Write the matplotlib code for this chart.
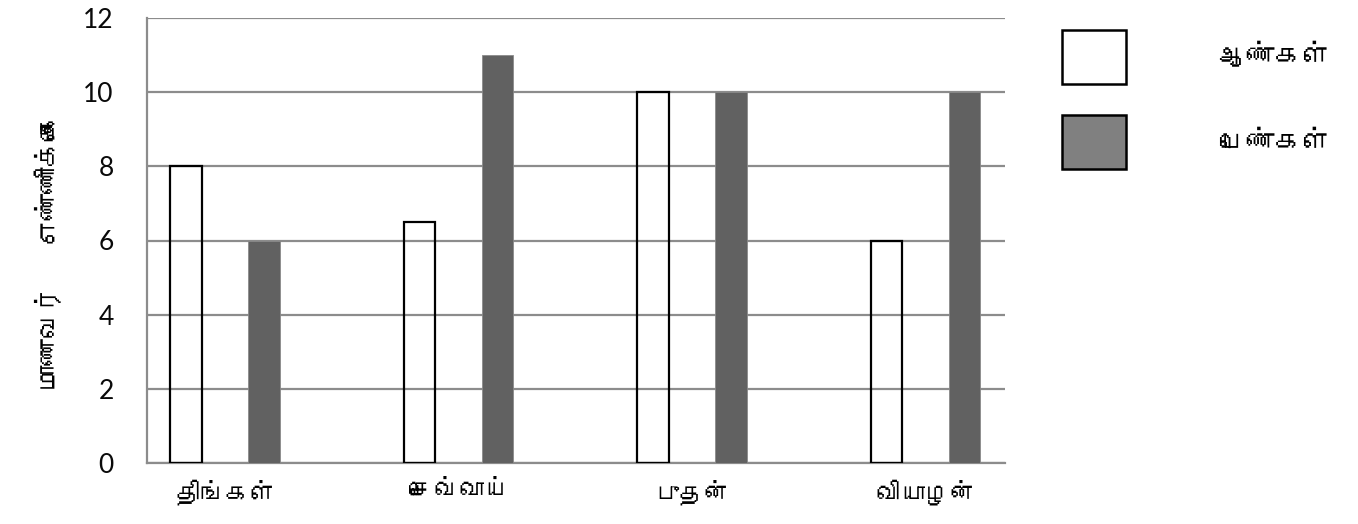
import matplotlib
matplotlib.use("Agg")
import matplotlib.pyplot as plt
from matplotlib import font_manager
from matplotlib.ft2font import FT2Font
from matplotlib.patches import Patch
import numpy as np

# ---- data ----
days = ["திங்கள்", "செவ்வாய்", "புதன்", "வியாழன்"]
boys = [8, 6.5, 10, 6]
girls = [6, 11, 10, 10]
series_labels = ["ஆண்கள்", "பெண்கள்"]
y_label = "மாணவர்   எண்ணிக்கை"
y_ticks = [0, 2, 4, 6, 8, 10, 12]

# ---- find a font with Tamil glyphs ----
tamil_font = None
seen = set()
for f in font_manager.fontManager.ttflist:
    if f.name in seen:
        continue
    seen.add(f.name)
    try:
        ft = FT2Font(f.fname)
        if ft.get_char_index(0x0BA4) and ft.get_char_index(0x0B95):
            tamil_font = f.name
            break
    except Exception:
        pass
tam_family = [tamil_font, "DejaVu Sans"] if tamil_font else ["DejaVu Sans"]

fig = plt.figure(figsize=(13.58, 5.24), dpi=100)
ax = fig.add_axes([147/1358, 61/524, (1005-147)/1358, (463-18)/524])

x = np.arange(len(days))
w = 0.135
off = 0.167
ax.bar(x - off, boys, w, facecolor="none", edgecolor="black", linewidth=1.6, zorder=3)
ax.bar(x + off, girls, w, facecolor="#616161", edgecolor="#8a8a8a", linewidth=0.6, zorder=3)

ax.set_xlim(-0.335, 3.34)
ax.set_ylim(0, 12)
ax.set_yticks(y_ticks)
ax.yaxis.grid(True, color="#8c8c8c", linewidth=1.6, zorder=0)
ax.set_axisbelow(True)
for s in ["top", "right"]:
    ax.spines[s].set_visible(False)
ax.spines["left"].set_color("#8c8c8c")
ax.spines["left"].set_linewidth(1.6)
ax.spines["bottom"].set_color("#8c8c8c")
ax.spines["bottom"].set_linewidth(1.6)
ax.tick_params(axis="both", length=0)
ax.tick_params(axis="y", pad=24)
ax.tick_params(axis="x", pad=12)
ax.set_xticks(x)
ax.set_xticklabels(days, family=tam_family, fontsize=18)
for lab in ax.get_yticklabels():
    lab.set_family(["Lato", "DejaVu Sans"])
    lab.set_fontsize(19)
    lab.set_color("#0a0a0a")

fig.text(48/1358, 1 - 252/524, y_label, rotation=90, ha="center", va="center",
         family=tam_family, fontsize=19)

handles = [Patch(facecolor="white", edgecolor="black", linewidth=1.8),
           Patch(facecolor="#808080", edgecolor="black", linewidth=1.8)]
fig.legend(handles, series_labels, loc="upper left",
           bbox_to_anchor=(1062/1358, 1 - 30/524), frameon=False,
           prop={"family": tam_family, "size": 20},
           handlelength=2.3, handleheight=2.61, handletextpad=3.35,
           labelspacing=1.12, borderpad=0, borderaxespad=0)

fig.savefig("out.png", dpi=100, facecolor="white")
